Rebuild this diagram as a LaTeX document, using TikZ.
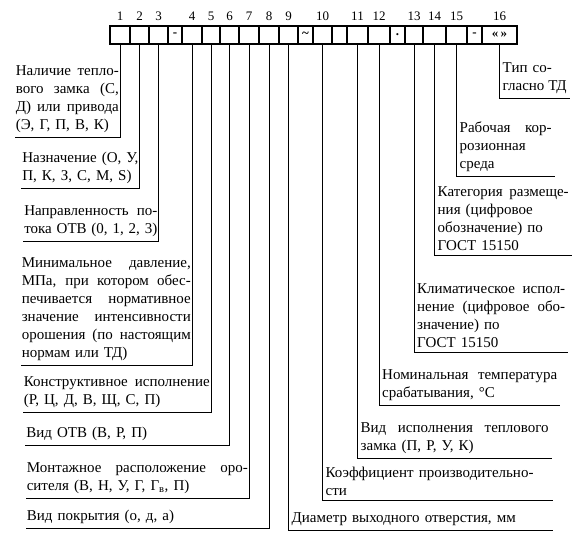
\documentclass[tikz,border=0pt]{standalone}
\usepackage{fontspec}
\setmainfont{Liberation Serif}
\usetikzlibrary{positioning}
\newcommand{\labfont}{\fontsize{15}{18}\selectfont\hyphenpenalty=10000
  \spaceskip=0.34em plus 3em minus 0.1em\relax}
\newcommand{\numfont}{\fontsize{13}{14}\selectfont}
\tikzset{
  cell/.style ={rectangle, draw, line width=1.2pt, minimum height=18pt,
                inner sep=0pt, font=\numfont\bfseries},
  num/.style  ={font=\numfont, inner sep=1pt},
  lft/.style  ={anchor=south east, align=justify, font=\labfont,
                inner xsep=1pt, inner ysep=4pt},
  rgt/.style  ={anchor=south west, align=justify, font=\labfont,
                inner xsep=3pt, inner ysep=4pt},
  con/.style  ={draw, line width=1pt},
}

\begin{document}
\begin{tikzpicture}[x=1pt,y=-1pt]
\useasboundingbox (0,0) rectangle (585,549);
% ---- code row (top) -------------------------------------------------
\foreach \k/\xa/\xb/\t in {1/110/130/{}, 2/130/149/{}, 3/149/168/{}, s1/168/182/-,
    4/182/202/{}, 5/202/220/{}, 6/220/239/{}, 7/239/259/{}, 8/259/279/{},
    9/279/298/{}, s2/298/313/\textasciitilde, 10/313/332/{}, s3/332/347//,
    11/347/368/{}, 12/368/390/{}, s4/390/405/., 13/405/423/{}, 14/423/446/{},
    15/446/467/{}, s5/467/482/-, 16/482/517/{«\,»}}
  \node[cell, minimum width={(\xb-\xa)*1pt}] (c\k) at ({(\xa+\xb)/2},35) {\t};
\foreach \k in {1,...,16}
  \node[num] (n\k) at (c\k.north |- 0,16) {\k};

% ---- explanations (left) --------------------------------------------
\node[lft, text width=103pt] (l1) at (c1.south |- 0,137)
  {Наличие тепло-\linebreak вого замка (С,\linebreak Д) или привода\linebreak (Э, Г, П, В, К)};
\node[lft, text width=116pt] (l2) at (c2.south |- 0,188)
  {Назначение (О, У,\linebreak П, К, З, С, М, S)};
\node[lft, text width=133pt] (l3) at (c3.south |- 0,241)
  {Направленность по-\linebreak тока ОТВ (0, 1, 2, 3)};
\node[lft, text width=169pt] (l4) at (c4.south |- 0,365)
  {Минимальное давление,\linebreak МПа, при котором обес-\linebreak печивается нормативное\linebreak
   значение интенсивности\linebreak орошения (по настоящим\linebreak нормам или ТД)};
\node[lft, text width=186pt] (l5) at (c5.south |- 0,412)
  {Конструктивное исполнение\linebreak (Р, Ц, Д, В, Щ, С, П)};
\node[lft, text width=202pt] (l6) at (c6.south |- 0,445)
  {Вид ОТВ (В, Р, П)};
\node[lft, text width=221pt] (l7) at (c7.south |- 0,498)
  {Монтажное расположение оро-\linebreak сителя (В, Н, У, Г, Г\textsubscript{в}, П)};
\node[lft, text width=241pt] (l8) at (c8.south |- 0,528)
  {Вид покрытия (о, д, а)};

% ---- explanations (right) -------------------------------------------
\node[rgt, text width=258pt] (l9)  at (c9.south |- 0,530)
  {Диаметр выходного отверстия, мм};
\node[rgt, text width=224pt] (l10) at (c10.south |- 0,500)
  {Коэффициент производительно-\\ сти};
\node[rgt, text width=188pt] (l11) at (c11.south |- 0,458)
  {Вид исполнения теплового\linebreak замка (П, Р, У, К)};
\node[rgt, text width=175pt] (l12) at (c12.south |- 0,405)
  {Номинальная температура\linebreak срабатывания, °С};
\node[rgt, text width=148pt] (l13) at (c13.south |- 0,352)
  {Климатическое испол-\linebreak нение (цифровое обо-\linebreak значение) по\\ ГОСТ 15150};
\node[rgt, text width=131pt] (l14) at (c14.south |- 0,255)
  {Категория размеще-\linebreak ния (цифровое\\ обозначение) по\\ ГОСТ 15150};
\node[rgt, text width=92pt]  (l15) at (c15.south |- 0,176)
  {Рабочая кор-\linebreak розионная\\ среда};
\node[rgt, text width=64pt]  (l16) at (c16.south |- 0,98)
  {Тип со-\\ гласно ТД};

% ---- leaders --------------------------------------------------------
\foreach \k in {1,...,8}
  \draw[con] (c\k.south) |- (l\k.south west);
\foreach \k in {9,...,16}
  \draw[con] (c\k.south) |- (l\k.south east);
\end{tikzpicture}
\end{document}
